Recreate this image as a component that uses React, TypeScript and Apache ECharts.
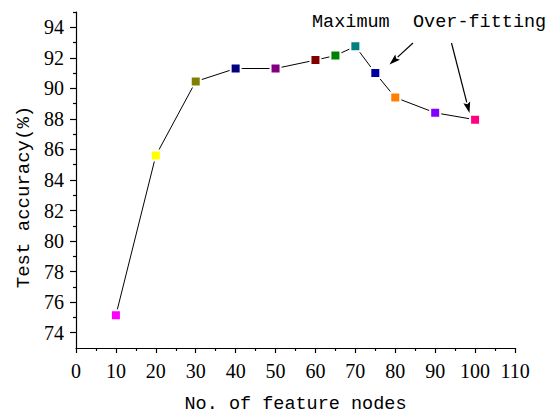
import React, { useEffect, useRef } from "react";
import * as echarts from "echarts";

const featureNodes = [10, 20, 30, 40, 50, 60, 65, 70, 75, 80, 90, 100];
const accuracy = [75.15, 85.6, 90.45, 91.3, 91.3, 91.85, 92.15, 92.75, 91.0, 89.4, 88.4, 87.95];
const markerColors = [
  "#FF00FF", "#FFFF00", "#808000", "#000080", "#800080", "#800000",
  "#008000", "#008080", "#0000A0", "#FF8000", "#8000FF", "#FF0080",
];
const yMajorTicks = [74, 76, 78, 80, 82, 84, 86, 88, 90, 92, 94];
const yMinorTicks = [75, 77, 79, 81, 83, 85, 87, 89, 91, 93, 95];
const annotations = ["Maximum", "Over-fitting"];

const MONO = "Liberation Mono";
const SERIF = "Liberation Serif";

function arrow(x1: number, y1: number, x2: number, y2: number) {
  const dx = x2 - x1;
  const dy = y2 - y1;
  const len = Math.sqrt(dx * dx + dy * dy);
  const ux = dx / len;
  const uy = dy / len;
  const hl = 11;
  const hw = 3.5;
  const bx = x2 - ux * hl;
  const by = y2 - uy * hl;
  return [
    {
      type: "line",
      shape: { x1, y1, x2: bx, y2: by },
      style: { stroke: "#000", lineWidth: 1.2 },
    },
    {
      type: "polygon",
      shape: {
        points: [
          [x2, y2],
          [bx - uy * hw, by + ux * hw],
          [bx + ux * 2, by + uy * 2],
          [bx + uy * hw, by - ux * hw],
        ],
      },
      style: { fill: "#000" },
    },
  ];
}

export default function App() {
  const ref = useRef<HTMLDivElement>(null);
  useEffect(() => {
    document.body.style.margin = "0";
    const chart = echarts.init(ref.current!, null, { renderer: "svg" });
    chart.setOption({
      animation: false,
      backgroundColor: "#fff",
      grid: { left: 76, right: 41, top: 12, bottom: 63, containLabel: false },
      xAxis: {
        type: "value",
        min: 0,
        max: 110,
        interval: 10,
        name: "No. of feature nodes",
        nameLocation: "middle",
        nameGap: 47,
        nameTextStyle: { fontFamily: MONO, fontSize: 18.5, color: "#000" },
        axisLine: { show: true, lineStyle: { color: "#000", width: 1.2 } },
        axisTick: { show: true, inside: false, length: 5, lineStyle: { color: "#000", width: 1.2 } },
        minorTick: { show: true, splitNumber: 2, length: 3, lineStyle: { color: "#000", width: 1.2 } },
        axisLabel: { fontFamily: SERIF, fontSize: 20, color: "#000", margin: 13 },
        splitLine: { show: false },
      },
      yAxis: [
        {
          type: "value",
          min: 73,
          max: 95,
          interval: 1,
          name: "Test accuracy(%)",
          nameLocation: "middle",
          nameGap: 42,
          nameRotate: 90,
          nameTextStyle: {
            fontFamily: MONO,
            fontSize: 19,
            color: "#000",
            padding: [0, 34, 0, 0],
          },
          axisLine: { show: true, lineStyle: { color: "#000", width: 1.2 } },
          axisTick: {
            show: true,
            inside: false,
            length: 6,
            customValues: yMajorTicks,
            lineStyle: { color: "#000", width: 1.2 },
          },
          axisLabel: {
            fontFamily: SERIF,
            fontSize: 20,
            color: "#000",
            margin: 12,
            customValues: yMajorTicks,
          },
          splitLine: { show: false },
        },
        {
          type: "value",
          position: "left",
          offset: 0,
          min: 73,
          max: 95,
          interval: 1,
          axisLine: { show: false },
          axisTick: {
            show: true,
            inside: false,
            length: 3,
            customValues: yMinorTicks,
            lineStyle: { color: "#000", width: 1.2 },
          },
          axisLabel: { show: false },
          splitLine: { show: false },
        },
      ],
      series: [
        {
          type: "line",
          yAxisIndex: 0,
          data: featureNodes.map((x, i) => ({
            value: [x, accuracy[i]],
            itemStyle: { color: markerColors[i] },
          })),
          symbol: "rect",
          symbolSize: 10,
          itemStyle: { borderColor: "#fff", borderWidth: 2 },
          lineStyle: { color: "#000", width: 1 },
          z: 3,
        },
      ],
      graphic: [
        {
          type: "text",
          x: 312,
          y: 22,
          style: {
            text: annotations[0],
            fontFamily: MONO,
            fontSize: 18.5,
            fill: "#000",
            textAlign: "left",
            textVerticalAlign: "middle",
          },
        },
        {
          type: "text",
          x: 413,
          y: 22,
          style: {
            text: annotations[1],
            fontFamily: MONO,
            fontSize: 18.5,
            fill: "#000",
            textAlign: "left",
            textVerticalAlign: "middle",
          },
        },
        ...arrow(413, 43, 389.5, 64.5),
        ...arrow(451.5, 43, 469.5, 113),
      ],
    });
    return () => chart.dispose();
  }, []);
  return <div ref={ref} style={{ width: 556, height: 419 }} />;
}
